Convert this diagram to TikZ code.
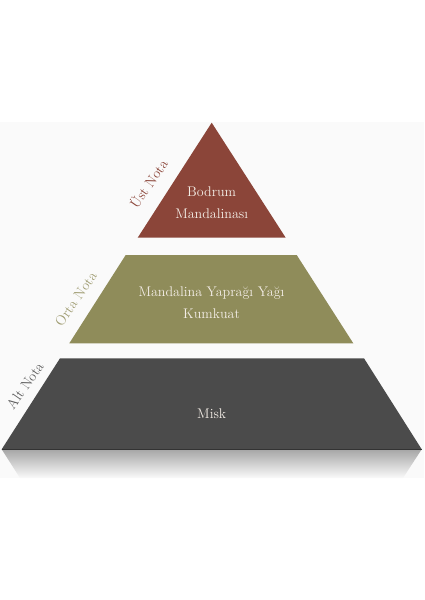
\documentclass[tikz,border=0pt]{standalone}
\usepackage{xcolor}
\usetikzlibrary{positioning}

\definecolor{topred}{HTML}{8B4539}
\definecolor{midolive}{HTML}{8F8C5A}
\definecolor{baseslate}{HTML}{4B4B4B}
\definecolor{paper}{HTML}{FAFAFA}
\definecolor{cream}{HTML}{F3EDE6}

\begin{document}
\begin{tikzpicture}[x=1pt,y=-1pt,
  tiertext/.style={text=cream,align=center,font=\fontsize{14}{22}\selectfont},
  notelbl/.style={rotate=55,font=\fontsize{14}{16}\selectfont}]

\useasboundingbox (0,0) rectangle (424,600);

% Backdrop
\fill[paper] (0,122) rectangle (424,478);

% Reflection
\shade[top color=black!35,bottom color=paper] (1.7,449.3) -- (421.7,449.3) -- (403,478) -- (20,478) -- cycle;

% Top note
\fill[topred] (211.7,122.7) -- (285.7,237.7) -- (137.7,237.7) -- cycle;
\node[tiertext] (upper) at (211.7,203) {Bodrum\\Mandalinası};
\node[notelbl,text=topred] (upperlbl) at (148.3,183.3) {Üst Nota};

% Middle note
\fill[midolive] (125.7,255) -- (296.7,255) -- (353.3,343.3) -- (69.3,343.3) -- cycle;
\node[tiertext] (middle) at (211.5,302.5) {Mandalina Yaprağı Yağı\\Kumkuat};
\node[notelbl,text=midolive!85!white] (middlelbl) at (75.8,299) {Orta Nota};

% Base note
\fill[baseslate] (60,358.3) -- (364,358.3) -- (421.7,449.3) -- (1.7,449.3) -- cycle;
\draw[black!80,line width=0.6pt] (1.7,449.3) -- (421.7,449.3);
\node[tiertext] (base) at (211.7,413.3) {Misk};
\node[notelbl,text=baseslate!90!white] (baselbl) at (25,385.5) {Alt Nota};

\end{tikzpicture}
\end{document}
